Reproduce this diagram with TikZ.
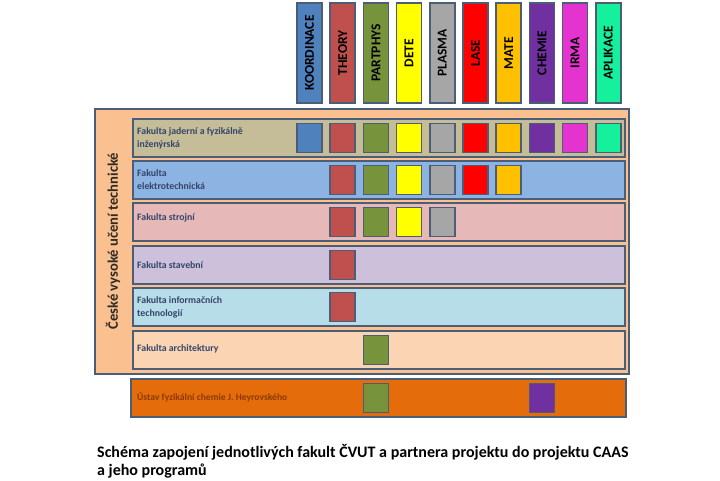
\documentclass[tikz,border=0pt]{standalone}
\usepackage{fontspec}
\setmainfont{Carlito}
\definecolor{bordc}{HTML}{4B5E78}
\definecolor{rowtxt}{HTML}{34456A}
\definecolor{outerc}{HTML}{FAC090}
\definecolor{rowa}{HTML}{C4BD97}
\definecolor{rowb}{HTML}{8DB3E2}
\definecolor{rowc}{HTML}{E6B9B8}
\definecolor{rowd}{HTML}{CCC0DA}
\definecolor{rowe}{HTML}{B7DDE8}
\definecolor{rowf}{HTML}{FBD4B4}
\definecolor{ustavc}{HTML}{E46C0A}
\definecolor{ustavtxt}{HTML}{8B3A00}
\definecolor{kord}{HTML}{4F81BD}
\definecolor{theo}{HTML}{C0504D}
\definecolor{part}{HTML}{77933C}
\definecolor{dete}{HTML}{FFFF00}
\definecolor{plas}{HTML}{A6A6A6}
\definecolor{lase}{HTML}{FF0000}
\definecolor{mate}{HTML}{FFC000}
\definecolor{chem}{HTML}{7030A0}
\definecolor{irma}{HTML}{E533D0}
\definecolor{apli}{HTML}{14F09C}
\definecolor{cvuttxt}{HTML}{2E2A26}
\tikzset{
  bord/.style={draw=bordc, line width=1.6pt},
  colbox/.style={bord, rotate=90, minimum width=100pt, minimum height=25pt, inner sep=0pt,
    font=\bfseries\fontsize{13.5}{14}\selectfont},
  sqbox/.style={bord, minimum width=25pt, minimum height=29pt, inner sep=0pt},
  rowbox/.style={bord, anchor=north west, minimum width=492pt, minimum height=38pt, inner sep=0pt},
  rowtext/.style={align=left, inner sep=0pt, text=rowtxt,
    font=\bfseries\fontsize{9.8}{13}\selectfont},
  titletext/.style={anchor=base west, inner sep=0pt, font=\bfseries\fontsize{16}{18}\selectfont},
}
\begin{document}
\begin{tikzpicture}[x=1pt,y=-1pt]
\useasboundingbox[fill=white] (0,0) rectangle (720,480);

% program columns
\foreach \lab/\col [count=\i from 0] in {KOORDINACE/kord, THEORY/theo, PARTPHYS/part, DETE/dete,
  PLASMA/plas, LASE/lase, MATE/mate, CHEMIE/chem, IRMA/irma, APLIKACE/apli}{
  \node[colbox, fill=\col] (c\i) at ({309.5+33.2*\i},53) {\lab};
}

% CVUT box
\node[bord, fill=outerc, anchor=north west, minimum width=534pt, minimum height=265pt, inner sep=0pt]
  (cvut) at (94,108) {};
\node[rotate=90, inner sep=0pt, text=cvuttxt, font=\bfseries\fontsize{14.6}{16}\selectfont]
  (cvutlab) at (113,241) {České vysoké učení technické};

% faculty rows
\node[rowbox, fill=rowa] (r1) at (132,118) {};
\node[rowbox, fill=rowb] (r2) at (132,160) {};
\node[rowbox, fill=rowc] (r3) at (132,202) {};
\node[rowbox, fill=rowd] (r4) at (132,245) {};
\node[rowbox, fill=rowe] (r5) at (132,287) {};
\node[rowbox, fill=rowf] (r6) at (132,330) {};
\node[bord, fill=ustavc, anchor=north west, minimum width=495pt, minimum height=38pt, inner sep=0pt]
  (ustav) at (130,378) {};

\node[rowtext, anchor=north west] (t1) at (137,127.5) {Fakulta jaderní a fyzikálně\\inženýrská};
\node[rowtext, anchor=north west] (t2) at (137,169.5) {Fakulta\\elektrotechnická};
\node[rowtext, anchor=west] (t3) at (137,218) {Fakulta strojní};
\node[rowtext, anchor=west] (t4) at (137,265) {Fakulta stavební};
\node[rowtext, anchor=north west] (t5) at (137,296) {Fakulta informačních\\technologií};
\node[rowtext, anchor=west] (t6) at (137,349) {Fakulta architektury};
\node[rowtext, anchor=west, text=ustavtxt, font=\bfseries\fontsize{9.6}{12}\selectfont] (t7) at (137,397) {Ústav fyzikální chemie J. Heyrovského};

% participation squares
\foreach \i/\col in {0/kord,1/theo,2/part,3/dete,4/plas,5/lase,6/mate,7/chem,8/irma,9/apli}
  \node[sqbox, fill=\col] (s1-\i) at (c\i |- r1) {};
\foreach \i/\col in {1/theo,2/part,3/dete,4/plas,5/lase,6/mate}
  \node[sqbox, fill=\col] (s2-\i) at (c\i |- r2) {};
\foreach \i/\col in {1/theo,2/part,3/dete,4/plas}
  \node[sqbox, fill=\col] (s3-\i) at (c\i |- r3) {};
\node[sqbox, fill=theo] (s4-1) at (c1 |- r4) {};
\node[sqbox, fill=theo] (s5-1) at (c1 |- r5) {};
\node[sqbox, fill=part] (s6-2) at (c2 |- r6) {};
\node[sqbox, fill=part] (s7-2) at (c2 |- ustav) {};
\node[sqbox, fill=chem] (s7-7) at (c7 |- ustav) {};

% caption
\node[titletext] (title1) at (97,457) {Schéma zapojení jednotlivých fakult ČVUT a partnera projektu do projektu CAAS};
\node[titletext] (title2) at (97,475) {a jeho programů};
\end{tikzpicture}
\end{document}
